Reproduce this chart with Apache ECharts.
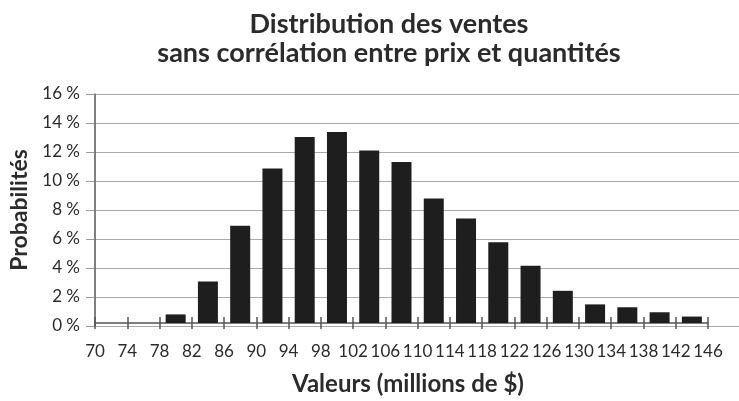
<!DOCTYPE html>
<html>
<head>
<meta charset="utf-8">
<script src="https://cdn.jsdelivr.net/npm/echarts@6/dist/echarts.min.js"></script>
<style>
  html, body { margin: 0; padding: 0; background: #fff; }
  #chart { width: 739px; height: 401px; }
</style>
</head>
<body>
<div id="chart"></div>
<script>
// classes de valeurs (début de chaque intervalle, en millions de $)
var binStarts = [70, 74, 78, 82, 86, 90, 94, 98, 102, 106, 110, 114, 118, 122, 126, 130, 134, 138, 142];
// probabilités en %
var probabilites = [0, 0, 0.6, 2.9, 6.8, 10.8, 13.0, 13.35, 12.05, 11.25, 8.7, 7.3, 5.65, 4.0, 2.25, 1.3, 1.1, 0.75, 0.45];
var binWidth = 4;
var xMin = 70, xMax = 146;
var yMin = 0, yMax = 16, yStep = 2;

var fontFamily = 'Lato, "Open Sans", sans-serif';
var textColor = '#2b2b2b';

var barData = [];
for (var i = 0; i < binStarts.length; i++) {
  barData.push([binStarts[i] + binWidth / 2, probabilites[i]]);
}

var chart = echarts.init(document.getElementById('chart'));
var option = {
  animation: false,
  title: {
    text: 'Distribution des ventes\nsans corrélation entre prix et quantités',
    left: 384,
    textAlign: 'center',
    top: 5,
    textStyle: {
      fontFamily: fontFamily,
      fontWeight: 'bold',
      fontSize: 27,
      lineHeight: 29,
      color: textColor
    }
  },
  grid: [
    { left: 95, right: 0, top: 94, bottom: 75 },
    { left: 95, width: 613, top: 94, bottom: 75 }
  ],
  xAxis: [
    {
      gridIndex: 0, type: 'value', min: xMin, max: 150, show: false
    },
    {
      gridIndex: 1,
      type: 'value',
      min: xMin,
      max: xMax,
      interval: binWidth,
      splitLine: { show: false },
      axisLine: { show: true, onZero: false, lineStyle: { color: '#555', width: 1.5 } },
      axisTick: { show: true, inside: true, length: 6, lineStyle: { color: '#555', width: 1.5 } },
      axisLabel: {
        margin: 20,
        showMinLabel: true,
        showMaxLabel: true,
        fontFamily: fontFamily,
        fontSize: 17,
        color: textColor
      },
      name: 'Valeurs (millions de $)',
      nameLocation: 'middle',
      nameGap: 49,
      nameTextStyle: {
        fontFamily: fontFamily,
        fontWeight: 'bold',
        fontSize: 24,
        padding: [0, 0, 0, 13],
        color: textColor
      }
    },
    {
      gridIndex: 1,
      type: 'value',
      min: xMin,
      max: xMax,
      interval: binWidth,
      position: 'bottom',
      splitLine: { show: false },
      axisLine: { show: false },
      axisTick: { show: true, inside: false, length: 6, lineStyle: { color: '#555', width: 1.5 } },
      axisLabel: { show: false }
    }
  ],
  yAxis: [
    {
      gridIndex: 0,
      type: 'value',
      min: yMin,
      max: yMax,
      interval: yStep,
      axisLine: { show: true, lineStyle: { color: '#555', width: 1.5 } },
      axisTick: { show: true, length: 9, lineStyle: { color: '#999' } },
      splitLine: { show: true, lineStyle: { color: '#aaa', width: 1.2 } },
      axisLabel: {
        formatter: '{value} %',
        margin: 15,
        fontFamily: fontFamily,
        fontSize: 17,
        color: textColor
      },
      name: 'Probabilités',
      nameLocation: 'middle',
      nameGap: 63,
      nameTextStyle: {
        fontFamily: fontFamily,
        fontWeight: 'bold',
        fontSize: 23,
        color: textColor
      }
    },
    {
      gridIndex: 1, type: 'value', min: yMin, max: yMax, show: false
    }
  ],
  series: [
    {
      type: 'bar',
      xAxisIndex: 1,
      yAxisIndex: 1,
      barWidth: 20,
      itemStyle: { color: '#1e1e1e' },
      data: barData
    }
  ]
};
chart.setOption(option);
</script>
</body>
</html>
